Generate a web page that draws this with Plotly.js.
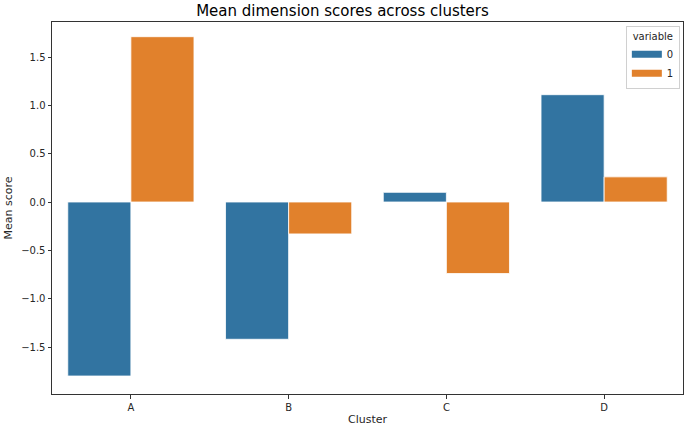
<!DOCTYPE html>
<html>
<head>
<meta charset="utf-8">
<script src="https://cdn.plot.ly/plotly-3.0.1.min.js"></script>
<style>html,body{margin:0;padding:0;background:#fff;}#chart{width:685px;height:426px;}</style>
</head>
<body>
<div id="chart"></div>
<script>
const clusters = ["A", "B", "C", "D"];
const series0 = [-1.80, -1.42, 0.10, 1.11];
const series1 = [1.71, -0.33, -0.74, 0.26];
const seriesNames = ["0", "1"];
const colors = ["#3274a1", "#e1812c"];

const traces = [];
[series0, series1].forEach((vals, i) => {
  traces.push({
    type: "bar",
    x: clusters,
    y: vals,
    name: seriesNames[i],
    legendgroup: seriesNames[i],
    showlegend: false,
    marker: { color: colors[i], line: { color: "#ffffff", width: 0.8 } }
  });
});
// legend swatches (wide rectangles like seaborn)
seriesNames.forEach((n, i) => {
  traces.push({
    type: "scatter", mode: "lines",
    x: [null], y: [null],
    name: n, legendgroup: n, showlegend: true,
    line: { color: colors[i], width: 7 }
  });
});

const font = { family: "DejaVu Sans, sans-serif", color: "#262626" };
const layout = {
  width: 685, height: 426,
  margin: { l: 52, r: 2, t: 22, b: 32, pad: 0 },
  paper_bgcolor: "#ffffff", plot_bgcolor: "#ffffff",
  font: Object.assign({ size: 10 }, font),
  title: { text: "Mean dimension scores across clusters", font: Object.assign({ size: 15 }, font, { color: "#000" }), x: 0.5, xanchor: "center", y: 0.986, yanchor: "top", pad: { t: 0, b: 0 } },
  barmode: "group", bargap: 0.2, bargroupgap: 0,
  xaxis: {
    type: "category", range: [-0.5, 3.5],
    title: { text: "Cluster", font: Object.assign({ size: 11 }, font), standoff: 4 },
    showline: true, linecolor: "#333", linewidth: 1, mirror: true,
    ticks: "outside", ticklen: 3.5, tickcolor: "#333", showgrid: false, zeroline: false,
    tickfont: Object.assign({ size: 10 }, font)
  },
  yaxis: {
    range: [-1.986, 1.862],
    tickvals: [-1.5, -1.0, -0.5, 0.0, 0.5, 1.0, 1.5],
    tickformat: ".1f",
    title: { text: "Mean score", font: Object.assign({ size: 11 }, font), standoff: 6 },
    showline: true, linecolor: "#333", linewidth: 1, mirror: true,
    ticks: "outside", ticklen: 3.5, tickcolor: "#333", showgrid: false, zeroline: false,
    tickfont: Object.assign({ size: 10 }, font)
  },
  showlegend: true,
  legend: {
    title: { text: "variable", font: Object.assign({ size: 10 }, font), side: "top center" },
    x: 0.995, xanchor: "right", y: 0.99, yanchor: "top",
    bgcolor: "rgba(255,255,255,0.8)", bordercolor: "#d0d0d0", borderwidth: 1,
    font: Object.assign({ size: 10 }, font), traceorder: "normal", itemwidth: 30
  }
};
Plotly.newPlot("chart", traces, layout, { displayModeBar: false, staticPlot: true });
</script>
</body>
</html>
